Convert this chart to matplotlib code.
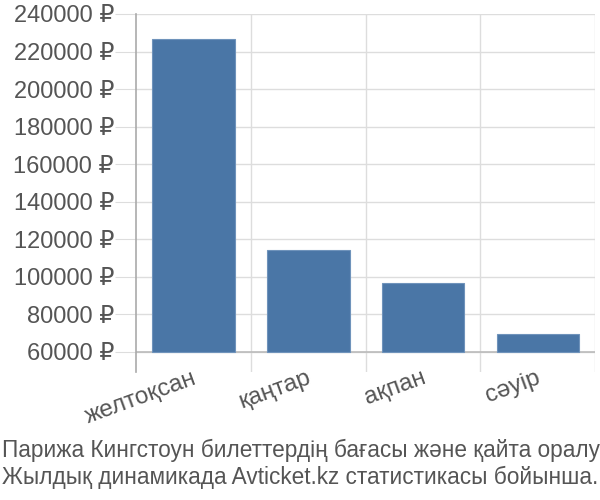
import matplotlib
matplotlib.use("Agg")
import matplotlib.pyplot as plt
import matplotlib.ticker as ticker
import matplotlib.transforms as mtransforms

plt.rcParams['font.family'] = ['Liberation Sans', 'DejaVu Sans']

months = ["желтоқсан", "қаңтар", "ақпан", "сәуір"]
prices = [226700, 114300, 96600, 69400]
yticks = [60000, 80000, 100000, 120000, 140000, 160000, 180000, 200000, 220000, 240000]
caption = ("Парижа Кингстоун билеттердің бағасы және қайта оралу\n"
           "Жылдық динамикада Avticket.kz статистикасы бойынша.")

fig = plt.figure(figsize=(6, 5), dpi=100)
ax = fig.add_axes([0.227, 0.256, 0.765, 0.716])

base = 60000
x = range(len(months))
ax.bar(x, [p - base for p in prices], bottom=base, width=0.72,
       color='#4a76a6', edgecolor='#6f93bb', linewidth=0.8, zorder=3)

ax.set_xlim(-0.5, len(months) - 0.5)
ax.set_ylim(49300, 240000)

# horizontal grid + tick labels
ax.set_yticks(yticks)
ax.set_yticklabels(["{} ₽".format(v) for v in yticks])
ax.yaxis.grid(True, color='#dddddd', linewidth=1, zorder=0)
ax.tick_params(axis='y', length=15, color='#dddddd', labelsize=17,
               labelcolor='#555555', pad=1)

# vertical grid at category boundaries
ax.set_xticks(x)
ax.set_xticklabels(months, rotation=20, ha='right', rotation_mode='anchor')
ax.xaxis.set_minor_locator(ticker.FixedLocator([i + 0.5 for i in x]))
ax.xaxis.grid(True, which='minor', color='#dddddd', linewidth=1, zorder=0)
ax.tick_params(axis='x', which='major', length=0, labelsize=17.5,
               labelcolor='#555555', pad=0)
ax.tick_params(axis='x', which='minor', length=0)
shift = mtransforms.ScaledTranslation(-2 / 100, 5 / 100, fig.dpi_scale_trans)
for lbl in ax.get_xticklabels():
    lbl.set_transform(lbl.get_transform() + shift)

ax.axhline(base, color='#bbbbbb', linewidth=1.2, zorder=2)

for s in ['top', 'right', 'bottom']:
    ax.spines[s].set_visible(False)
ax.spines['left'].set_color('#aaaaaa')
ax.spines['left'].set_linewidth(1.2)

fig.text(0.003, 0.022, caption, fontsize=16.3, color='#555555',
         ha='left', va='bottom', linespacing=1.2)

fig.savefig('out.png', dpi=100)
